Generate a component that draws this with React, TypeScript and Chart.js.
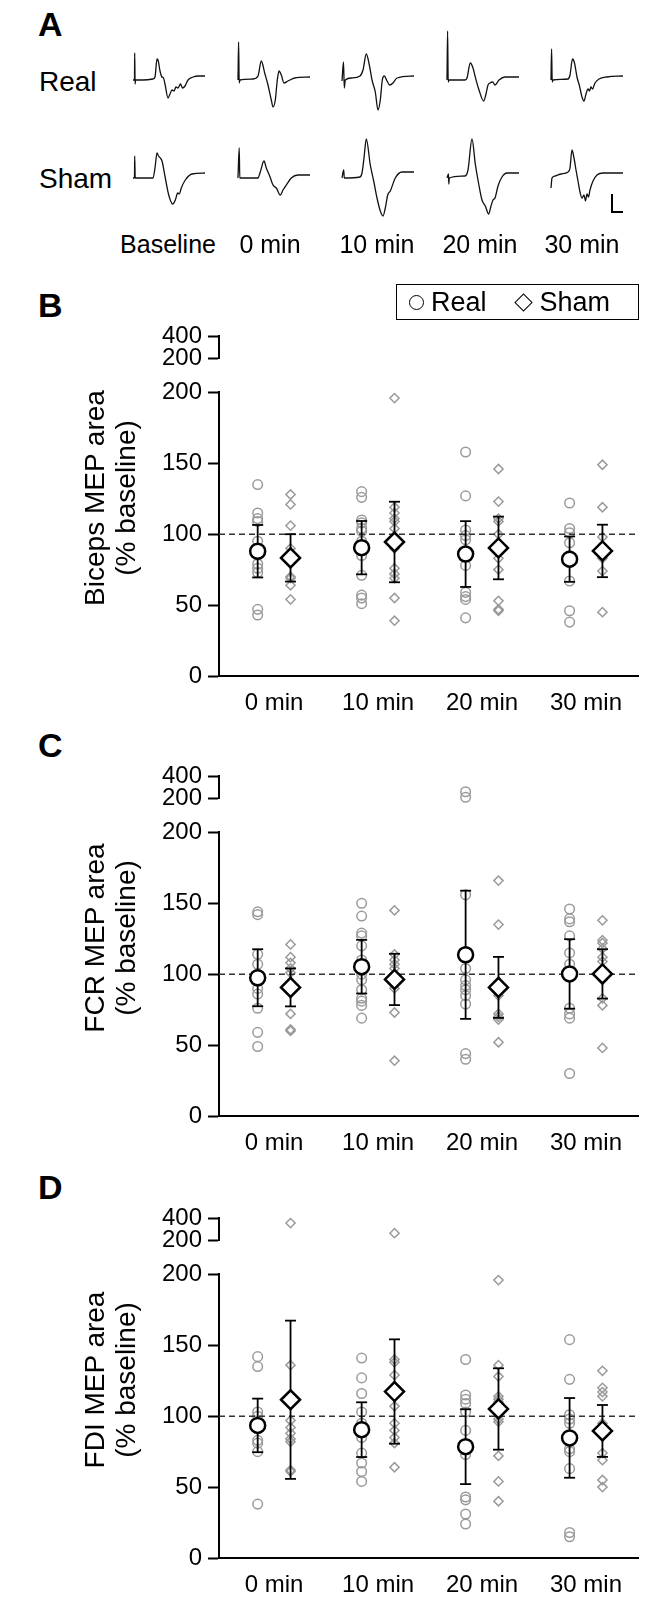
import React, { useEffect, useRef } from "react";
import { Chart, registerables } from "chart.js";

Chart.register(...registerables);

const FONT = "'Liberation Sans', Arial, Helvetica, sans-serif";

// ---------- Panel A : example MEP traces (t in ms-like units, amplitude in µV-like units) ----------
const traceLabels = ["Baseline", "0 min", "10 min", "20 min", "30 min"];

const realTraceBaseline = [[0,0],[1.5,0],[1.7,27],[2.1,-4],[2.6,0],[10,0],[20,1],[22,3],[24,21],[25.3,19],[27,9],[29,3],[30.5,2],[32,-4],[35,-18],[37,-14],[39,-10],[41,-11],[43,-7],[45,-8],[47.5,-4],[49.5,-8],[52,-6],[55,0],[60,3],[66,4],[72,4]];
const realTrace0 = [[0,0],[0.6,38],[1.2,-3],[2,0],[15,1],[20,4],[23.3,19],[26.7,7],[30,-5],[33.3,-20],[35,-27],[37.3,-20],[39.3,0],[41,9],[43.3,5],[46,-3],[50,-1],[56.7,2],[72,3]];
const realTrace10 = [[0,-1],[1.5,18],[2.3,-8],[3.3,0],[10,2],[18,4],[21,10],[24.3,26],[27.7,13],[30,0],[33.3,-12],[36,-30],[38.3,-20],[40.3,0],[42.3,4],[45,-1],[47.7,-5],[51,-3],[55,2],[72,4]];
const realTrace20 = [[0,0],[0.6,49],[1.2,-2],[2,0],[18,0],[20,2],[23.3,17],[26,12],[28.3,3],[31.7,-9],[36.7,-21],[39,-14],[41,-5],[43,-3],[45.7,-2],[48,-5],[52,0],[58,3],[72,3]];
const realTrace30 = [[0,0],[0.6,31],[1.2,-2],[2,0],[17,1],[19,5],[21.5,21],[23.5,17],[26,3],[28.5,-6],[31,-17],[33,-21],[35,-14],[37,-9],[38.5,-11],[40,-7],[41.5,-9],[44,-3],[48,1],[56,3],[72,4]];

const shamTraceBaseline = [[0,0],[1.5,0],[1.7,22],[2.2,0],[20,0],[22,10],[24,25],[25.5,22],[27.3,20],[29,17],[32.3,0],[35.7,-17],[39.7,-26],[42.3,-22],[44.7,-15],[46.3,-16],[48.3,-10],[52.3,-2],[59,4],[72,5]];
const shamTrace0 = [[0,0],[1.2,30],[1.8,0],[20,0],[22,5],[26,17],[28.3,10],[31.7,2],[35,-7],[38.3,-10],[42.3,-17],[45,-12],[48.3,-7],[53.3,0],[60,3],[72,3]];
const shamTrace10 = [[0,0],[1.7,8],[2.3,0],[18,1],[20,5],[22,20],[24.3,39],[28.3,13],[31.7,-3],[35,-20],[38.3,-33],[41,-38],[43.3,-30],[45.7,-17],[48.3,-13],[53.3,0],[60,6],[72,6]];
const shamTrace20 = [[0,0],[1.5,4],[1.8,-6],[2.3,0],[18,2],[21,8],[25,39],[28.3,14],[31.7,-6],[35,-22],[38.3,-28],[41.7,-36],[44,-28],[46,-22],[48,-20],[51,-8],[55,1],[60,5],[72,5]];
const shamTrace30 = [[0,-10],[1,0],[4,2],[10,4],[17,6],[19,10],[21,28],[23,20],[25,8],[27,-3],[29,-14],[31,-20],[33,-17],[34.5,-23],[36,-16],[37.5,-19],[39,-12],[42,-3],[46,3],[52,5],[72,5]];

const realTraces = [realTraceBaseline, realTrace0, realTrace10, realTrace20, realTrace30];
const shamTraces = [shamTraceBaseline, shamTrace0, shamTrace10, shamTrace20, shamTrace30];

// ---------- Panels B-D : % baseline MEP area ----------
const timeLabels = ["0 min", "10 min", "20 min", "30 min"];
const lowerTicks = [0, 50, 100, 150, 200];
const upperTicks = [200, 400];

// B: Biceps
const bicepsReal = [
  [135, 115, 111, 109, 95, 90, 79, 76, 73, 47, 43],
  [130, 126, 110, 108, 104, 102, 95, 85, 71, 57, 55, 51],
  [158, 127, 103, 99, 96, 88, 78, 59, 56, 54, 41],
  [122, 104, 101, 94, 85, 80, 67, 46, 38],
];
const bicepsSham = [
  [128, 121, 106, 90, 80, 70, 69, 64, 54],
  [196, 119, 115, 111, 109, 104, 90, 76, 72, 69, 55, 39],
  [146, 123, 111, 109, 100, 83, 75, 53, 47, 46],
  [149, 119, 98, 92, 83, 74, 45],
];
const bicepsRealMean = [88, 90.5, 86, 82.4];
const bicepsRealSd = [18.5, 18.8, 23.2, 16];
const bicepsShamMean = [83.3, 94.5, 90.3, 88.2];
const bicepsShamSd = [16.7, 28.4, 22.1, 18.5];

// C: FCR
const fcrReal = [
  [144, 142, 114, 107, 100, 95, 90, 86, 76, 59, 49],
  [150, 141, 129, 127, 120, 110, 100, 96, 89, 83, 81, 78, 69],
  [262, 212, 156, 104, 96, 92, 89, 85, 79, 44, 40],
  [146, 139, 137, 127, 115, 107, 76, 72, 69, 30],
];
const fcrSham = [
  [121, 112, 108, 104, 101, 90, 72, 61, 60],
  [145, 114, 110, 107, 104, 100, 90, 73, 39],
  [166, 135, 91, 85, 72, 70, 68, 52],
  [138, 124, 122, 118, 112, 109, 96, 83, 78, 48],
];
const fcrRealMean = [97.5, 105.3, 113.7, 100.2];
const fcrRealSd = [20.1, 18.9, 45.2, 24.5];
const fcrShamMean = [90.7, 96.3, 90.7, 100.2];
const fcrShamSd = [13.4, 18.1, 21.5, 17.4];

// D: FDI
const fdiReal = [
  [142, 135, 103, 100, 95, 83, 81, 75, 38],
  [141, 127, 116, 103, 95, 85, 74, 67, 61, 54],
  [140, 115, 112, 109, 103, 90, 73, 43, 41, 31, 24],
  [154, 126, 101, 98, 95, 82, 77, 75, 63, 18, 15],
];
const fdiSham = [
  [358, 136, 97, 92, 88, 84, 82, 62, 61],
  [267, 140, 138, 129, 107, 95, 90, 85, 81, 64],
  [196, 136, 128, 114, 112, 110, 98, 96, 72, 54, 40],
  [132, 120, 117, 114, 95, 87, 74, 69, 55, 50],
];
const fdiRealMean = [93.5, 90.5, 78.5, 84.7];
const fdiRealSd = [18.9, 19.3, 26.4, 28.1];
const fdiShamMean = [111.6, 117.4, 105.1, 89.6];
const fdiShamSd = [55.8, 36.8, 28.7, 18.3];

// ---------- layout constants ----------
const OFF = 0.158;
const X_MIN = -0.53;
const X_MAX = 3.5;
const AXIS_LEFT = 219;
const AXIS_RIGHT = 638;
const PAD = 16;
const LOWER_H = 288;
const UPPER_H = 31;
const GAP = 25;
const XAXIS_H = 40;
const GREY = "#9a9a9a";

type P = { x: number; y: number | null };

function points(groups: number[][], off: number, keep: (v: number) => boolean): P[] {
  const out: P[] = [];
  groups.forEach((g, i) => g.forEach((v) => { if (keep(v)) out.push({ x: i + off, y: v }); }));
  return out;
}

function errPoints(mean: number[], sd: number[], off: number): P[] {
  const out: P[] = [];
  mean.forEach((m, i) => {
    out.push({ x: i + off, y: m - sd[i] }, { x: i + off, y: m + sd[i] }, { x: i + off, y: null });
  });
  return out;
}

function meanPoints(mean: number[], off: number): P[] {
  return mean.map((m, i) => ({ x: i + off, y: m }));
}

function Trace({ data, left, top }: { data: number[][]; left: number; top: number }) {
  const ref = useRef<HTMLCanvasElement>(null);
  useEffect(() => {
    const chart = new Chart(ref.current as HTMLCanvasElement, {
      type: "scatter",
      data: {
        datasets: [
          {
            data: data.map(([t, v]) => ({ x: t, y: v })),
            showLine: true,
            borderColor: "#111",
            borderWidth: 1.3,
            pointRadius: 0,
            cubicInterpolationMode: "monotone",
            clip: false,
          } as any,
        ],
      },
      options: {
        responsive: false,
        animation: false,
        layout: { padding: 0 },
        plugins: { legend: { display: false }, tooltip: { enabled: false } },
        scales: {
          x: { type: "linear", display: false, min: -2, max: 74 },
          y: { type: "linear", display: false, min: -45, max: 55 },
        },
      },
    });
    return () => chart.destroy();
  }, []);
  return <canvas ref={ref} width={76} height={100} style={{ position: "absolute", left: left - 2, top }} />;
}

function SectionChart(props: {
  section: "upper" | "lower";
  top: number;
  real: number[][];
  sham: number[][];
  realMean: number[];
  realSd: number[];
  shamMean: number[];
  shamSd: number[];
}) {
  const ref = useRef<HTMLCanvasElement>(null);
  const upper = props.section === "upper";
  const height = upper ? PAD + UPPER_H + PAD : PAD + LOWER_H + XAXIS_H;
  useEffect(() => {
    const keep = upper ? (v: number) => v > 200 : (v: number) => v <= 200;
    const datasets: any[] = [
      {
        data: points(props.real, -OFF, keep),
        pointStyle: "circle",
        pointRadius: 4.8,
        pointBorderWidth: 1.5,
        pointBorderColor: GREY,
        pointBackgroundColor: "rgba(0,0,0,0)",
        showLine: false,
        order: 6,
        clip: false,
      },
      {
        data: points(props.sham, OFF, keep),
        pointStyle: "rectRot",
        pointRadius: 4.6,
        pointBorderWidth: 1.5,
        pointBorderColor: GREY,
        pointBackgroundColor: "rgba(0,0,0,0)",
        showLine: false,
        order: 5,
        clip: false,
      },
    ];
    if (!upper) {
      datasets.push(
        {
          data: [{ x: X_MIN, y: 100 }, { x: X_MAX, y: 100 }],
          showLine: true,
          borderColor: "#333",
          borderWidth: 1.5,
          borderDash: [6, 4],
          pointRadius: 0,
          order: 4,
          clip: false,
        },
        {
          data: errPoints(props.realMean, props.realSd, -OFF),
          showLine: true,
          spanGaps: false,
          borderColor: "#000",
          borderWidth: 1.8,
          pointStyle: "line",
          pointRadius: 5.5,
          pointBorderWidth: 1.8,
          pointBorderColor: "#000",
          order: 3,
          clip: false,
        },
        {
          data: errPoints(props.shamMean, props.shamSd, OFF),
          showLine: true,
          spanGaps: false,
          borderColor: "#000",
          borderWidth: 1.8,
          pointStyle: "line",
          pointRadius: 5.5,
          pointBorderWidth: 1.8,
          pointBorderColor: "#000",
          order: 3,
          clip: false,
        },
        {
          data: meanPoints(props.realMean, -OFF),
          pointStyle: "circle",
          pointRadius: 7.5,
          pointBorderWidth: 2.5,
          pointBorderColor: "#000",
          pointBackgroundColor: "#fff",
          showLine: false,
          order: 1,
          clip: false,
        },
        {
          data: meanPoints(props.shamMean, OFF),
          pointStyle: "rectRot",
          pointRadius: 9.5,
          pointBorderWidth: 2.5,
          pointBorderColor: "#000",
          pointBackgroundColor: "#fff",
          showLine: false,
          order: 1,
          clip: false,
        }
      );
    }
    const tickFont = { family: FONT, size: 24 };
    const chart = new Chart(ref.current as HTMLCanvasElement, {
      type: "scatter",
      data: { datasets },
      options: {
        responsive: false,
        animation: false,
        layout: { padding: { top: PAD, right: 667 - AXIS_RIGHT, bottom: upper ? PAD : 0, left: 0 } },
        plugins: { legend: { display: false }, tooltip: { enabled: false } },
        scales: {
          x: {
            type: "linear",
            display: !upper,
            min: X_MIN,
            max: X_MAX,
            afterFit: (s: any) => { s.height = upper ? 0 : XAXIS_H; },
            afterBuildTicks: (s: any) => { s.ticks = timeLabels.map((_, i) => ({ value: i })); },
            ticks: {
              callback: (v: any) => timeLabels[Math.round(Number(v))] ?? "",
              font: { family: FONT, size: 24 },
              color: "#000",
              padding: 13,
              maxRotation: 0,
              autoSkip: false,
            },
            grid: { display: false, drawTicks: false },
            border: { display: true, color: "#000", width: 2 },
          },
          y: {
            type: "linear",
            min: upper ? 200 : 0,
            max: upper ? 400 : 200,
            afterFit: (s: any) => { s.width = AXIS_LEFT; },
            afterBuildTicks: (s: any) => { s.ticks = (upper ? upperTicks : lowerTicks).map((v) => ({ value: v })); },
            ticks: { font: tickFont, color: "#000", padding: 6, autoSkip: false },
            grid: { drawOnChartArea: false, drawTicks: true, tickLength: 11, tickColor: "#000", tickWidth: 2 },
            border: { display: true, color: "#000", width: 2 },
          },
        },
      } as any,
    });
    return () => chart.destroy();
  }, []);
  return <canvas ref={ref} width={667} height={height} style={{ position: "absolute", left: 0, top: props.top }} />;
}

function Panel(props: {
  letter: string;
  title: string;
  y0: number;
  real: number[][];
  sham: number[][];
  realMean: number[];
  realSd: number[];
  shamMean: number[];
  shamSd: number[];
  legend?: boolean;
}) {
  const { y0 } = props;
  const common = {
    real: props.real,
    sham: props.sham,
    realMean: props.realMean,
    realSd: props.realSd,
    shamMean: props.shamMean,
    shamSd: props.shamSd,
  };
  return (
    <>
      <div style={{ position: "absolute", left: 38, top: y0 - 388, font: `bold 34px ${FONT}`, lineHeight: 1 }}>{props.letter}</div>
      <SectionChart section="upper" top={y0 - LOWER_H - GAP - UPPER_H - PAD} {...common} />
      <SectionChart section="lower" top={y0 - LOWER_H - PAD} {...common} />
      <div
        style={{
          position: "absolute",
          left: 110 - 150,
          top: y0 - 178 - 31,
          width: 300,
          height: 62,
          transform: "rotate(-90deg)",
          textAlign: "center",
          font: `28px ${FONT}`,
          lineHeight: "31px",
          whiteSpace: "nowrap",
        }}
      >
        {props.title}
        <br />
        (% baseline)
      </div>
      {props.legend && (
        <div
          style={{
            position: "absolute",
            left: 396,
            top: 284,
            width: 241,
            height: 34,
            border: "1px solid #000",
            display: "flex",
            alignItems: "center",
            font: `27px ${FONT}`,
            boxSizing: "content-box",
          }}
        >
          <span style={{ display: "inline-block", width: 13, height: 13, border: "1.7px solid #000", borderRadius: "50%", marginLeft: 12, marginRight: 7 }} />
          <span>Real</span>
          <span style={{ display: "inline-block", width: 11, height: 11, border: "1.7px solid #000", transform: "rotate(45deg)", marginLeft: 30, marginRight: 10 }} />
          <span>Sham</span>
        </div>
      )}
    </>
  );
}

export default function App() {
  const colLefts = [133, 238, 342, 447, 551];
  const labelCenters = [168, 270, 377, 480, 582];
  return (
    <div style={{ position: "absolute", left: 0, top: 0, width: 667, height: 1600, overflow: "hidden", background: "#fff", color: "#000" }}>
      <div style={{ position: "absolute", left: 38, top: 7, font: `bold 34px ${FONT}`, lineHeight: 1 }}>A</div>
      <div style={{ position: "absolute", left: 39, top: 68, font: `28px ${FONT}`, lineHeight: 1 }}>Real</div>
      <div style={{ position: "absolute", left: 39, top: 165, font: `28px ${FONT}`, lineHeight: 1 }}>Sham</div>
      {realTraces.map((t, i) => (
        <Trace key={"r" + i} data={t} left={colLefts[i]} top={25} />
      ))}
      {shamTraces.map((t, i) => (
        <Trace key={"s" + i} data={t} left={colLefts[i]} top={123} />
      ))}
      <div style={{ position: "absolute", left: 611, top: 194, width: 10, height: 17, borderLeft: "2px solid #000", borderBottom: "2px solid #000" }} />
      {traceLabels.map((l, i) => (
        <div key={l} style={{ position: "absolute", left: labelCenters[i] - 60, top: 232, width: 120, textAlign: "center", font: `25px ${FONT}`, lineHeight: 1 }}>
          {l}
        </div>
      ))}
      <Panel letter="B" title="Biceps MEP area" y0={676} real={bicepsReal} sham={bicepsSham} realMean={bicepsRealMean} realSd={bicepsRealSd} shamMean={bicepsShamMean} shamSd={bicepsShamSd} legend />
      <Panel letter="C" title="FCR MEP area" y0={1116} real={fcrReal} sham={fcrSham} realMean={fcrRealMean} realSd={fcrRealSd} shamMean={fcrShamMean} shamSd={fcrShamSd} />
      <Panel letter="D" title="FDI MEP area" y0={1558} real={fdiReal} sham={fdiSham} realMean={fdiRealMean} realSd={fdiRealSd} shamMean={fdiShamMean} shamSd={fdiShamSd} />
    </div>
  );
}
